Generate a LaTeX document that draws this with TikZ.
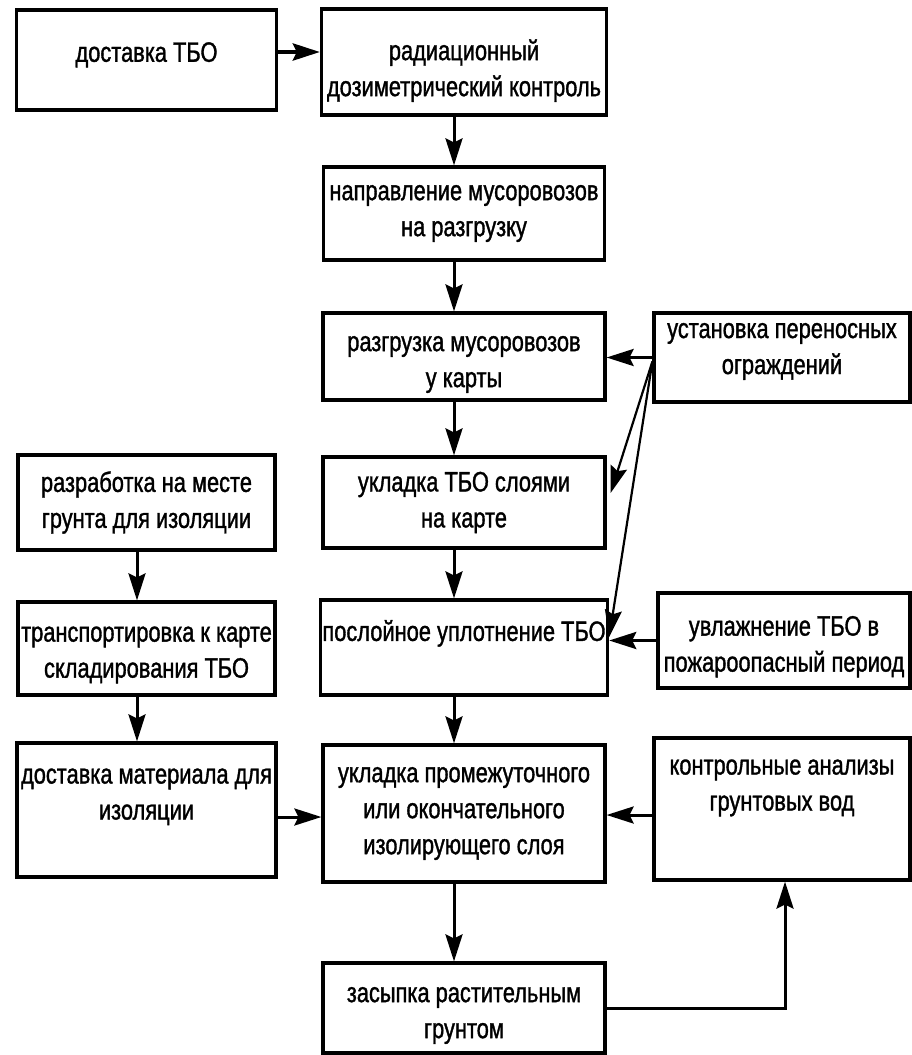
\documentclass[tikz,border=0pt]{standalone}
\usepackage{fontspec}
\setmainfont{Liberation Sans}[FakeStretch=0.78,FakeBold=1.2]
\usepackage{tikz}
\usetikzlibrary{arrows.meta}
\tikzstyle{block} = [rectangle, draw, line width=1.6pt, align=center, inner sep=1pt, font=\fontsize{14}{18}\selectfont]
\tikzstyle{flow} = [draw, line width=1.5pt, -{Stealth[length=13.5pt,width=8.5pt,inset=2pt]}]

\begin{document}
\begin{tikzpicture}[x=0.5pt,y=-0.5pt]
      \useasboundingbox (0,0) rectangle (911,1055);
      \node[block,minimum width=130pt,minimum height=50pt,text depth=8pt] (Delivery) at (146.5,60) {доставка ТБО};
      \node[block,minimum width=142.5pt,minimum height=53pt,text height=37pt] (Dosimetry) at (464,62) {радиационный\\дозиметрический контроль};
      \node[block,minimum width=140.5pt,minimum height=46.5pt] (Direction) at (464,213.5) {направление мусоровозов\\на разгрузку};
      \node[block,minimum width=141pt,minimum height=43.5pt,text height=33.5pt] (Unloading) at (464,356.5) {разгрузка мусоровозов\\у карты};
      \node[block,minimum width=128pt,minimum height=44.5pt,text depth=9pt] (Fences) at (782,357.5) {установка переносных\\ограждений};
      \node[block,minimum width=128.5pt,minimum height=47.5pt] (Excavation) at (146.5,502.5) {разработка на месте\\грунта для изоляции};
      \node[block,minimum width=141pt,minimum height=45.5pt] (Layering) at (464,502.5) {укладка ТБО слоями\\на карте};
      \node[block,minimum width=128.5pt,minimum height=46.5pt,text height=32pt] (Transport) at (146.5,648.5) {транспортировка к карте\\складирования ТБО};
      \node[block,minimum width=141pt,minimum height=47.5pt,text depth=17pt] (Compaction) at (464,647.5) {послойное уплотнение ТБО};
      \node[block,minimum width=126pt,minimum height=47.5pt,text height=34pt] (Moistening) at (784,640.5) {увлажнение ТБО в\\пожароопасный период};
      \node[block,minimum width=129.5pt,minimum height=67pt,text depth=16pt] (Material) at (146.5,810) {доставка материала для\\изоляции};
      \node[block,minimum width=141pt,minimum height=68.5pt] (Isolation) at (464,813.5) {укладка промежуточного\\или окончательного\\изолирующего слоя};
      \node[block,minimum width=128pt,minimum height=71pt,text depth=24pt] (Analysis) at (782,809) {контрольные анализы\\грунтовых вод};
      \node[block,minimum width=141pt,minimum height=45pt,text height=33pt] (Topsoil) at (464,1008) {засыпка растительным\\грунтом};
      %
      \draw[flow,line width=2.2pt] ([yshift=4pt]Delivery.east) -- ([yshift=4pt]Delivery.east -| Dosimetry.west);
      \draw[flow] ([xshift=-5pt]Dosimetry.south) -- ([xshift=-5pt]Direction.north);
      \draw[flow] ([xshift=-5pt]Direction.south) -- ([xshift=-5pt]Unloading.north);
      \draw[flow] ([xshift=-5pt]Unloading.south) -- ([xshift=-5pt]Layering.north);
      \draw[flow] ([xshift=-5pt]Layering.south) -- ([xshift=-5pt]Compaction.north);
      \draw[flow] ([xshift=-5pt]Compaction.south) -- ([xshift=-5pt]Isolation.north);
      \draw[flow] ([xshift=-5pt]Isolation.south) -- ([xshift=-5pt]Topsoil.north);
      \draw[flow] (Fences.west) -- (Fences.west -| Unloading.east);
      \draw[flow,line width=1.1pt] ([yshift=-2pt]Fences.west) -- ([xshift=2pt,yshift=4.75pt]Layering.east);
      \draw[flow,line width=1.1pt] ([yshift=-2pt]Fences.west) -- ([yshift=5.25pt]Compaction.east);
      \draw[flow] (Moistening.west) -- (Moistening.west -| Compaction.east);
      \draw[flow] ([xshift=-4.75pt]Excavation.south) -- ([xshift=-4.75pt]Transport.north);
      \draw[flow] ([xshift=-4.75pt]Transport.south) -- ([xshift=-4.75pt]Material.north);
      \draw[flow] ([yshift=-3.5pt]Material.east) -- ([yshift=-3.5pt]Material.east -| Isolation.west);
      \draw[flow] ([yshift=-3pt]Analysis.west) -- ([yshift=-3pt]Analysis.west -| Isolation.east);
      \draw[flow] (Topsoil.east) -| ([xshift=1.5pt]Analysis.south);
    \end{tikzpicture}
\end{document}
